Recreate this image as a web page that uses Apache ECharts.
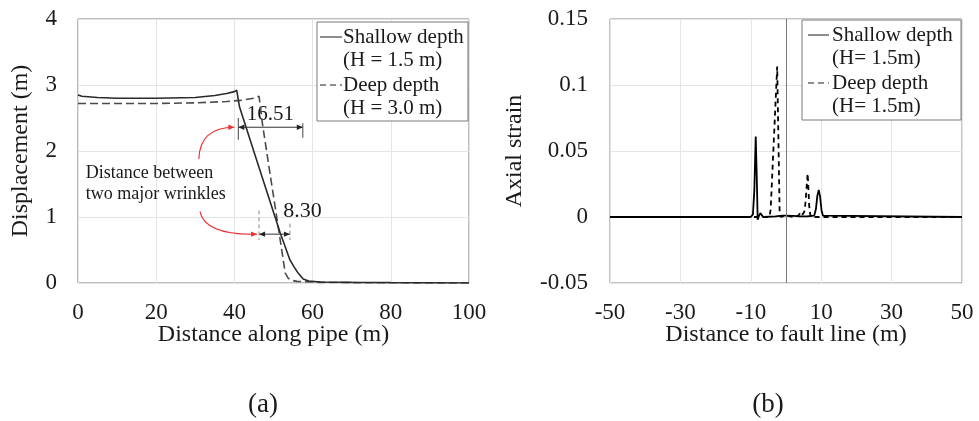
<!DOCTYPE html>
<html>
<head>
<meta charset="utf-8">
<script src="https://cdn.jsdelivr.net/npm/echarts@6.0.0/dist/echarts.min.js"></script>
<style>
  html, body { margin: 0; padding: 0; background: #fff; }
  #chart { width: 979px; height: 421px; }
</style>
</head>
<body>
<div id="chart"></div>
<script>
// (a) displacement along pipe
const shallowDispX = [0, 1, 5, 10, 20, 30, 35, 38, 40, 40.6, 41.3, 45, 48, 51.7, 53, 54.2, 55.3, 56.3, 57.6, 59, 62, 70, 80, 100];
const shallowDispY = [2.85, 2.83, 2.81, 2.80, 2.80, 2.81, 2.84, 2.87, 2.90, 2.92, 2.67, 1.99, 1.44, 0.76, 0.55, 0.35, 0.24, 0.15, 0.06, 0.03, 0.015, 0.01, 0.005, 0.0];
const deepDispX = [0, 10, 20, 30, 38, 42, 45, 46.3, 47.2, 49, 51, 53, 53.8, 54.6, 56, 58.6, 62, 70, 100];
const deepDispY = [2.72, 2.72, 2.72, 2.73, 2.75, 2.77, 2.80, 2.83, 2.40, 1.70, 0.93, 0.15, 0.07, 0.04, 0.025, 0.02, 0.01, 0.005, 0.0];

// (b) axial strain vs distance to fault
const shallowStrainX = [-50, -10, -9.4, -9.0, -8.6, -8.3, -8.05, -7.8, -7.3, -6.9, -6.5, -3, -1, 0, 2, 4, 6, 8, 8.5, 8.9, 9.3, 9.7, 10.1, 10.5, 11, 50];
const shallowStrainY = [0, 0, 0.002, 0.02, 0.061, 0.03, -0.002, 0, 0.003, 0.002, 0, 0.0005, 0.001, 0.001, 0.0008, 0.0005, 0.0005, 0.001, 0.006, 0.016, 0.0205, 0.015, 0.005, 0.001, 0, 0];
const deepStrainX = [-50, -4.7, -4.35, -2.5, -1.8, -1.5, 0, 2, 3.5, 4, 4.5, 5.2, 5.5, 6.15, 6.6, 7, 50];
const deepStrainY = [0, 0, 0.006, 0.114, 0.002, 0, 0.001, 0, 0.001, 0.003, 0.001, 0.004, 0.01, 0.033, 0.008, 0, 0];

const legendA = ['Shallow depth', '(H = 1.5 m)', 'Deep depth', '(H = 3.0 m)'];
const legendB = ['Shallow depth', '(H= 1.5m)', 'Deep depth', '(H= 1.5m)'];
const dimLabels = ['16.51', '8.30'];
const noteLines = ['Distance between', 'two major wrinkles'];

const FONT = "'Liberation Serif', 'Times New Roman', serif";

function zip(xs, ys) {
  return xs.map((x, i) => [x, ys[i]]);
}

const chart = echarts.init(document.getElementById('chart'));

const axisText = { color: '#1a1a1a', fontSize: 23, fontFamily: FONT };
const nameText = { color: '#1a1a1a', fontSize: 24, fontFamily: FONT };
const split = { show: true, lineStyle: { color: '#e4e4e4', width: 1 } };

chart.setOption({
  animation: false,
  grid: [
    { left: 78, top: 19, width: 391, height: 264, show: true, borderColor: '#7a7a7a', borderWidth: 1 },
    { left: 610, top: 19, width: 352, height: 264, show: true, borderColor: '#8a8a8a', borderWidth: 1 }
  ],
  xAxis: [
    {
      gridIndex: 0, type: 'value', min: 0, max: 100, interval: 20,
      axisLine: { show: false }, axisTick: { show: false }, splitLine: split,
      axisLabel: Object.assign({ margin: 18 }, axisText),
      name: 'Distance along pipe (m)', nameLocation: 'middle', nameGap: 40, nameMoveOverlap: false, nameTextStyle: nameText
    },
    {
      gridIndex: 1, type: 'value', min: -50, max: 50, interval: 20,
      axisLine: { show: false, onZero: false }, axisTick: { show: false }, splitLine: split,
      axisLabel: Object.assign({ margin: 18 }, axisText),
      name: 'Distance to fault line (m)', nameLocation: 'middle', nameGap: 40, nameMoveOverlap: false, nameTextStyle: nameText
    }
  ],
  yAxis: [
    {
      gridIndex: 0, type: 'value', min: 0, max: 4, interval: 1,
      axisLine: { show: false }, axisTick: { show: false }, splitLine: split,
      axisLabel: Object.assign({ margin: 21 }, axisText),
      name: 'Displacement (m)', nameLocation: 'middle', nameGap: 45, nameTextStyle: nameText
    },
    {
      gridIndex: 1, type: 'value', min: -0.05, max: 0.15, interval: 0.05,
      axisLine: { show: false, onZero: false }, axisTick: { show: false }, splitLine: split,
      axisLabel: Object.assign({ margin: 22, formatter: (v) => String(+v.toFixed(2)) }, axisText),
      name: 'Axial strain', nameLocation: 'middle', nameGap: 83, nameTextStyle: nameText
    }
  ],
  series: [
    {
      name: 'Deep depth', type: 'line', xAxisIndex: 0, yAxisIndex: 0,
      data: zip(deepDispX, deepDispY), showSymbol: false, silent: true,
      lineStyle: { color: '#4a4a4a', width: 1.6, type: [8, 4] }
    },
    {
      name: 'Shallow depth', type: 'line', xAxisIndex: 0, yAxisIndex: 0,
      data: zip(shallowDispX, shallowDispY), showSymbol: false, silent: true,
      lineStyle: { color: '#2a2a2a', width: 1.6 }
    },
    {
      name: 'Deep depth', type: 'line', xAxisIndex: 1, yAxisIndex: 1,
      data: zip(deepStrainX, deepStrainY), showSymbol: false, silent: true,
      lineStyle: { color: '#000', width: 1.8, type: [5, 4] }
    },
    {
      name: 'Shallow depth', type: 'line', xAxisIndex: 1, yAxisIndex: 1,
      data: zip(shallowStrainX, shallowStrainY), showSymbol: false, silent: true,
      lineStyle: { color: '#000', width: 1.8 },
      markLine: {
        silent: true, symbol: 'none', label: { show: false },
        lineStyle: { color: '#7a7a7a', width: 1, type: 'solid' },
        data: [{ xAxis: 0 }]
      }
    }
  ]
});

// helpers for annotation drawing
const px = (x, y) => chart.convertToPixel({ gridIndex: 0 }, [x, y]);

function arrowHead(tip, dx, dy, color, size) {
  const len = Math.hypot(dx, dy);
  const ux = dx / len, uy = dy / len;
  const s = size || 6;
  const bx = tip[0] - ux * s, by = tip[1] - uy * s;
  return {
    type: 'polygon', silent: true,
    shape: { points: [tip, [bx - uy * s * 0.45, by + ux * s * 0.45], [bx + uy * s * 0.45, by - ux * s * 0.45]] },
    style: { fill: color }
  };
}

function seg(a, b, color, dash) {
  return {
    type: 'line', silent: true,
    shape: { x1: a[0], y1: a[1], x2: b[0], y2: b[1] },
    style: { stroke: color, lineWidth: 1, lineDash: dash || null }
  };
}

function txt(p, text, size, align) {
  return {
    type: 'text', silent: true, x: p[0], y: p[1],
    style: { text: text, fontSize: size, fontFamily: FONT, fill: '#1a1a1a', align: align || 'center', verticalAlign: 'middle' }
  };
}

function legendBox(x0, y0, w, h, lineX0, lineX1, textX, labels) {
  const rowY = [y0 + 15, y0 + 38, y0 + 63, y0 + 86];
  const els = [{
    type: 'rect', silent: true, shape: { x: x0, y: y0, width: w, height: h },
    style: { fill: '#fff', stroke: '#7a7a7a', lineWidth: 1 }
  }];
  els.push(seg([lineX0, rowY[0]], [lineX1, rowY[0]], '#1a1a1a'));
  els.push(seg([lineX0, rowY[2]], [lineX1, rowY[2]], '#1a1a1a', [6, 4]));
  labels.forEach((t, i) => els.push(txt([textX, rowY[i]], t, 21, 'left')));
  return els;
}

const g = [];

// 16.51 dimension
const d1a = px(41.0, 2.36), d1b = px(57.5, 2.36);
g.push(seg(d1a, d1b, '#333'));
g.push(arrowHead(d1a, -1, 0, '#222', 6), arrowHead(d1b, 1, 0, '#222', 6));
g.push(seg(px(41.0, 2.5), px(41.0, 2.17), '#444'));
g.push(seg(px(57.5, 2.42), px(57.5, 2.2), '#444'));
g.push(txt(px(49.2, 2.55), dimLabels[0], 21));

// 8.30 dimension
const d2a = px(46.3, 0.74), d2b = px(54.2, 0.74);
g.push(seg(d2a, d2b, '#333'));
g.push(arrowHead(d2a, -1, 0, '#222', 6), arrowHead(d2b, 1, 0, '#222', 6));
g.push(seg(px(46.3, 1.1), px(46.3, 0.65), '#888', [4, 3]));
g.push(seg(px(54.2, 0.9), px(54.2, 0.65), '#888', [4, 3]));
g.push(txt(px(57.4, 1.09), dimLabels[1], 22));

// note text
g.push(txt(px(2.0, 1.67), noteLines[0], 18, 'left'));
g.push(txt(px(2.0, 1.35), noteLines[1], 18, 'left'));

// red curved arrows
const r1s = px(30.9, 1.88), r1c = px(31.2, 2.36), r1e = px(40.0, 2.36);
g.push({
  type: 'bezierCurve', silent: true,
  shape: { x1: r1s[0], y1: r1s[1], x2: r1e[0], y2: r1e[1], cpx1: r1c[0], cpy1: r1c[1] },
  style: { stroke: '#f03030', lineWidth: 1.2, fill: null }
});
g.push(arrowHead(r1e, 1, 0, '#f03030', 6));
const r2s = px(31.2, 1.08), r2c = px(32.5, 0.72), r2e = px(45.8, 0.74);
g.push({
  type: 'bezierCurve', silent: true,
  shape: { x1: r2s[0], y1: r2s[1], x2: r2e[0], y2: r2e[1], cpx1: r2c[0], cpy1: r2c[1] },
  style: { stroke: '#f03030', lineWidth: 1.2, fill: null }
});
g.push(arrowHead(r2e, 1, 0, '#f03030', 6));

// legends
g.push(...legendBox(317, 22, 151, 99, 320, 342, 343, legendA));
g.push(...legendBox(802, 20, 159, 100, 808, 829, 832, legendB));

// panel captions
g.push(txt([263, 405], '(a)', 27));
g.push(txt([768, 405], '(b)', 27));

chart.setOption({ graphic: g });
</script>
</body>
</html>
